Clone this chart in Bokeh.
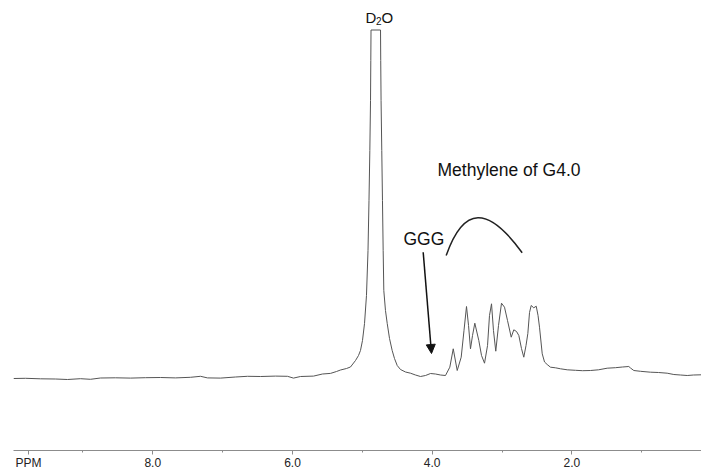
from bokeh.plotting import figure
from bokeh.models import (Range1d, FixedTicker, Label, Arrow, NormalHead)
from bokeh.embed import file_html
from bokeh.resources import INLINE

# 1H NMR spectrum: chemical shift (ppm) and intensity (arbitrary units, clipped at top)
ppm = [9.994, 9.822, 9.608, 9.393, 9.221, 9.035, 8.892, 8.749, 8.534, 8.319,
       8.105, 7.890, 7.675, 7.460, 7.317, 7.217, 7.031, 6.816, 6.644, 6.458,
       6.243, 6.072, 5.986, 5.886, 5.699, 5.571, 5.456, 5.370, 5.313, 5.227,
       5.170, 5.098, 5.055, 5.027, 4.998, 4.969, 4.941, 4.919, 4.905, 4.893,
       4.883, 4.879, 4.876, 4.740, 4.737, 4.732, 4.722, 4.712, 4.702, 4.693,
       4.669, 4.644, 4.611, 4.573, 4.540, 4.501, 4.454, 4.382, 4.311, 4.239,
       4.168, 4.096, 4.024, 3.953, 3.881, 3.810, 3.748, 3.699, 3.642, 3.585,
       3.545, 3.509, 3.480, 3.452, 3.423, 3.390, 3.333, 3.294, 3.251, 3.208,
       3.180, 3.151, 3.123, 3.090, 3.051, 3.008, 2.965, 2.922, 2.869, 2.832,
       2.793, 2.760, 2.722, 2.689, 2.657, 2.631, 2.607, 2.583, 2.546, 2.511,
       2.485, 2.464, 2.425, 2.392, 2.354, 2.307, 2.235, 2.163, 2.067, 1.949,
       1.848, 1.734, 1.619, 1.495, 1.376, 1.276, 1.186, 1.161, 1.114, 1.018,
       0.875, 0.760, 0.636, 0.541, 0.445, 0.349, 0.259, 0.150]
intensity = [0.0, 0.2, -0.3, -0.5, -1.0, -0.2, -0.8, 0.5, 0.7, 0.4,
             0.8, 1.0, 0.6, 1.2, 2.2, 0.6, 0.4, 1.5, 2.2, 2.0,
             2.4, 2.2, 0.4, 2.0, 2.4, 4.5, 5.1, 7.0, 8.5, 10.0,
             11.5, 18.0, 23.0, 28.0, 38.0, 55.0, 83.0, 128.0, 178.0, 228.0,
             278.0, 318.0, 348.5, 348.5, 318.0, 278.0, 228.0, 178.0, 128.0, 88.0,
             68.0, 55.0, 40.0, 28.0, 20.0, 13.0, 9.0, 6.5, 5.3, 3.5,
             2.0, 3.0, 5.0, 4.5, 3.5, 3.0, 11.3, 29.7, 8.0, 21.3,
             48.0, 72.0, 53.0, 29.7, 43.0, 55.3, 38.0, 23.0, 15.3, 33.0,
             63.0, 74.7, 48.0, 27.3, 53.0, 75.3, 71.3, 58.0, 41.3, 48.7,
             47.0, 43.0, 30.0, 21.3, 33.0, 45.0, 66.0, 73.0, 70.7, 72.3,
             63.0, 51.3, 24.7, 16.5, 14.0, 11.3, 10.7, 9.7, 8.7, 8.2,
             7.8, 8.0, 8.7, 10.3, 10.8, 11.5, 12.0, 10.5, 8.0, 7.2,
             6.3, 6.0, 5.3, 4.0, 3.5, 3.0, 3.5, 3.7]

axis_name_pos = 9.78
major_ticks = [axis_name_pos, 8, 6, 4, 2]
minor_ticks = [1, 3, 5, 7, 9]
tick_labels = {axis_name_pos: "PPM", 8: "8.0", 6: "6.0", 4: "4.0", 2: "2.0"}

FONT = "Liberation Sans"

p = figure(width=701, height=472, output_backend="svg", toolbar_location=None,
           x_range=Range1d(9.994, 0.145), y_range=Range1d(-72, 378),
           y_axis_location=None, min_border_left=13, min_border_right=0,
           min_border_top=0, min_border_bottom=22)
p.outline_line_color = None
p.xgrid.visible = False
p.ygrid.visible = False
p.background_fill_color = "white"

p.line(ppm, intensity, line_color="#555555", line_width=1)

ax = p.xaxis[0]
ax.ticker = FixedTicker(ticks=major_ticks, minor_ticks=minor_ticks)
ax.major_label_overrides = tick_labels
ax.axis_line_color = "#8c8c8c"
ax.major_tick_line_color = "#8c8c8c"
ax.minor_tick_line_color = "#8c8c8c"
ax.major_tick_in = 0
ax.major_tick_out = 4
ax.minor_tick_in = 0
ax.minor_tick_out = 2
ax.major_label_standoff = 1
ax.major_label_text_font = FONT
ax.major_label_text_font_size = "12px"
ax.major_label_text_color = "#222222"

# D2O label
p.add_layout(Label(x=4.955, y=361.5, text="D", text_font=FONT, text_font_size="15px",
                   text_color="#111111", text_baseline="alphabetic"))
p.add_layout(Label(x=4.955, y=361.5, x_offset=10.5, y_offset=-4, text="2", text_font=FONT,
                   text_font_size="10px", text_color="#111111", text_baseline="alphabetic"))
p.add_layout(Label(x=4.955, y=361.5, x_offset=16, text="O", text_font=FONT, text_font_size="15px",
                   text_color="#111111", text_baseline="alphabetic"))

p.add_layout(Label(x=3.924, y=209, text="Methylene of G4.0", text_font=FONT,
                   text_font_size="17.5px", text_color="#111111", text_baseline="alphabetic"))
p.add_layout(Label(x=4.411, y=139.5, text="GGG", text_font=FONT,
                   text_font_size="17.5px", text_color="#111111", text_baseline="alphabetic"))

p.bezier(x0=[3.800], y0=[123], x1=[2.712], y1=[125.7], cx0=[3.55], cy0=[173],
         cx1=[3.2], cy1=[173], line_color="#222222", line_width=1.5)

p.add_layout(Arrow(end=NormalHead(size=9, fill_color="#111111", line_color="#111111"),
                   x_start=4.129, y_start=126.3, x_end=4.010, y_end=25,
                   line_color="#111111", line_width=1.5))

open("out.html", "w").write(file_html(p, INLINE))
